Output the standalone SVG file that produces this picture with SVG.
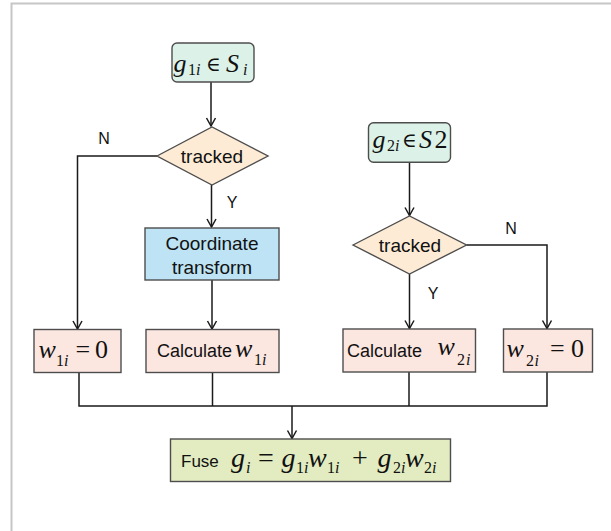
<svg xmlns="http://www.w3.org/2000/svg" width="611" height="531" viewBox="0 0 611 531">
<style>
.frame{stroke:#c6c6c6;stroke-width:2;fill:none}
.box{stroke:#4d4d4d;stroke-width:1.4}
.start{fill:#dcf2e8}
.dec{fill:#fdebd6}
.coord{fill:#bde3f5}
.calc{fill:#fce6e0}
.fuse{fill:#e2ecc0}
.con{fill:none;stroke:#1a1a1a;stroke-width:1.5}
.sans{font-family:"Liberation Sans",Arial,sans-serif;fill:#111}
.math{font-family:"Liberation Serif","Times New Roman",serif;fill:#111;font-size:26px}
.big{font-size:28px}
.it{font-style:italic}
.sub{font-size:16px}
.el{font-family:"DejaVu Serif","Liberation Serif",serif;font-size:20px}
.lbl{font-family:"Liberation Sans",Arial,sans-serif;font-size:16px;fill:#111;text-anchor:middle}
</style>
<defs>
<marker id="arr" markerUnits="userSpaceOnUse" markerWidth="12" markerHeight="12" viewBox="-10 -6 12 12" refX="0" refY="0" orient="auto">
<path d="M-8,-4.5 L0,0 L-8,4.5" fill="none" stroke="#1a1a1a" stroke-width="1.5"/>
</marker>
</defs>
<rect width="611" height="531" fill="#fff"/>
<path class="frame" d="M11.5,531 V3.5 H611"/>

<g id="connectors">
<path class="con" d="M211,82 V126" marker-end="url(#arr)"/>
<path class="con" d="M157,156 H77.5 V329" marker-end="url(#arr)"/>
<path class="con" d="M211.5,185 V227" marker-end="url(#arr)"/>
<path class="con" d="M212,280 V329" marker-end="url(#arr)"/>
<path class="con" d="M409.5,162 V215.5" marker-end="url(#arr)"/>
<path class="con" d="M466.5,245 H547 V328.5" marker-end="url(#arr)"/>
<path class="con" d="M409.5,274 V328.5" marker-end="url(#arr)"/>
<path class="con" d="M79,372.5 V406 H547 V372"/>
<path class="con" d="M212.5,372.5 V406"/>
<path class="con" d="M409,372 V406"/>
<path class="con" d="M292,406 V438.5" marker-end="url(#arr)"/>
<text class="lbl" x="104" y="144">N</text>
<text class="lbl" x="232" y="208">Y</text>
<text class="lbl" x="511" y="234">N</text>
<text class="lbl" x="433" y="299">Y</text>
</g>

<g id="start1">
<rect class="box start" x="172" y="43" width="82" height="39" rx="5"/>
<text class="math" y="72"><tspan class="it" x="173.5">g</tspan><tspan class="sub" x="188" y="75">1</tspan><tspan class="sub it" x="196" y="75">i</tspan><tspan class="el" x="206" y="71">∈</tspan><tspan class="it" x="226" y="72">S</tspan><tspan class="sub it" x="243" y="75">i</tspan></text>
</g>

<g id="decision1">
<polygon class="box dec" points="157,156 212,127 268,156 212,185"/>
<text class="sans" x="212" y="163" font-size="19" text-anchor="middle">tracked</text>
</g>

<g id="coordinate">
<rect class="box coord" x="145" y="228" width="134" height="52"/>
<text class="sans" x="212" y="250" font-size="19" text-anchor="middle">Coordinate</text>
<text class="sans" x="212" y="274" font-size="19" text-anchor="middle">transform</text>
</g>

<g id="zero1">
<rect class="box calc" x="34" y="329.5" width="87" height="43"/>
<text class="math" y="358"><tspan class="it" x="38.5">w</tspan><tspan class="sub" x="56" y="366">1</tspan><tspan class="sub it" x="64" y="366">i</tspan><tspan x="75.5" y="358">=</tspan><tspan x="95" y="358">0</tspan></text>
</g>

<g id="calc1">
<rect class="box calc" x="146" y="329.5" width="133" height="43"/>
<text y="357"><tspan class="sans" font-size="18" x="157">Calculate</tspan><tspan class="math it" x="235" y="357">w</tspan><tspan class="math sub" x="254" y="365">1</tspan><tspan class="math sub it" x="262" y="365">i</tspan></text>
</g>

<g id="start2">
<rect class="box start" x="368.5" y="122.7" width="82" height="39.5" rx="5"/>
<text class="math" y="148"><tspan class="it" x="372.5">g</tspan><tspan class="sub" x="387" y="151">2</tspan><tspan class="sub it" x="395" y="151">i</tspan><tspan class="el" x="402" y="147">∈</tspan><tspan class="it" x="419" y="148">S</tspan><tspan x="434.5" y="148">2</tspan></text>
</g>

<g id="decision2">
<polygon class="box dec" points="353,245 409.5,216 466.5,245 409.5,274"/>
<text class="sans" x="410" y="252" font-size="19" text-anchor="middle">tracked</text>
</g>

<g id="calc2">
<rect class="box calc" x="343" y="329" width="132.5" height="43"/>
<text y="357"><tspan class="sans" font-size="18" x="347">Calculate</tspan><tspan class="math it" x="437.5" y="355">w</tspan><tspan class="math sub" x="457" y="365">2</tspan><tspan class="math sub it" x="466" y="365">i</tspan></text>
</g>

<g id="zero2">
<rect class="box calc" x="503.5" y="329" width="89" height="43"/>
<text class="math" y="357"><tspan class="it" x="506.5">w</tspan><tspan class="sub" x="526" y="366">2</tspan><tspan class="sub it" x="534.5" y="366">i</tspan><tspan x="550" y="357">=</tspan><tspan x="571" y="357">0</tspan></text>
</g>

<g id="fuse">
<rect class="box fuse" x="170.5" y="439" width="280" height="42.5"/>
<text y="467"><tspan class="sans" font-size="17" x="181">Fuse</tspan><tspan class="math big it" x="231" y="467">g</tspan><tspan class="math sub it" x="246" y="473">i</tspan><tspan class="math big" x="258" y="467">=</tspan><tspan class="math big it" x="281.5" y="467">g</tspan><tspan class="math sub" x="296" y="473">1</tspan><tspan class="math sub it" x="304" y="473">i</tspan><tspan class="math big it" x="308" y="467">w</tspan><tspan class="math sub" x="327" y="473">1</tspan><tspan class="math sub it" x="335" y="473">i</tspan><tspan class="math big" x="352" y="467">+</tspan><tspan class="math big it" x="377.5" y="467">g</tspan><tspan class="math sub" x="393" y="473">2</tspan><tspan class="math sub it" x="401" y="473">i</tspan><tspan class="math big it" x="405" y="467">w</tspan><tspan class="math sub" x="424" y="473">2</tspan><tspan class="math sub it" x="432" y="473">i</tspan></text>
</g>
</svg>
